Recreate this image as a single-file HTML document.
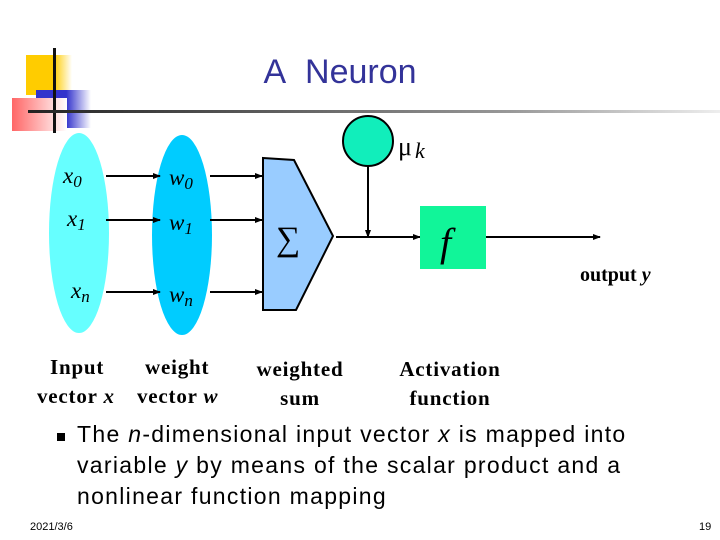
<!DOCTYPE html>
<html><head><style>
body{margin:0;width:720px;height:540px;background:#fff;overflow:hidden;position:relative;font-family:"Liberation Sans",sans-serif}
.a{position:absolute;white-space:nowrap}
.s{font-family:"Liberation Serif",serif;font-size:21px;font-weight:bold;letter-spacing:0.8px}
</style></head><body>
<div class="a" style="left:26px;top:55px;width:46px;height:40px;background:linear-gradient(90deg,#fc0 60%,#fff)"></div>
<div class="a" style="left:36px;top:90px;width:55px;height:38px;background:linear-gradient(90deg,#33c 55%,#fff)"></div>
<div class="a" style="left:12px;top:98px;width:55px;height:33px;background:linear-gradient(90deg,#f66,#fff)"></div>
<div class="a" style="left:53px;top:48px;width:3px;height:85px;background:#111"></div>
<div class="a" style="left:28px;top:110px;width:692px;height:3px;background:linear-gradient(90deg,#222,#999 70%,#eee)"></div>
<div class="a" style="left:0;width:680px;text-align:center;top:53px;font-size:34px;color:#333399">A&nbsp; Neuron</div>
<svg class="a" style="left:0;top:0" width="720" height="540">
<defs><marker id="m" markerWidth="8" markerHeight="8" refX="7" refY="4" orient="auto" markerUnits="userSpaceOnUse"><path d="M0,1 L8,4 L0,7z" fill="#000"/></marker></defs>
<ellipse cx="79" cy="233" rx="30" ry="100" fill="#66ffff"/>
<ellipse cx="182" cy="235" rx="30" ry="100" fill="#00ccff"/>
<g stroke="#000" stroke-width="2" marker-end="url(#m)">
<line x1="106" y1="176" x2="160" y2="176"/><line x1="106" y1="220" x2="160" y2="220"/><line x1="106" y1="292" x2="160" y2="292"/>
<line x1="210" y1="176" x2="262" y2="176"/><line x1="210" y1="220" x2="262" y2="220"/><line x1="210" y1="292" x2="262" y2="292"/>
<line x1="336" y1="237" x2="420" y2="237"/><line x1="368" y1="166" x2="368" y2="237"/><line x1="486" y1="237" x2="600" y2="237"/>
</g>
<polygon points="263,158 294,160 333,236 296,310 263,310" fill="#99ccff" stroke="#000" stroke-width="2"/>
<circle cx="368" cy="141" r="25" fill="#11eebb" stroke="#000" stroke-width="2"/>
<rect x="420" y="206" width="66" height="63" fill="#11f599"/>
<g font-family="Liberation Serif,serif" font-style="italic" font-size="23">
<text x="63" y="183">x<tspan font-size="17" dy="4">0</tspan></text>
<text x="67" y="226">x<tspan font-size="17" dy="4">1</tspan></text>
<text x="71" y="298">x<tspan font-size="17" dy="4">n</tspan></text>
<text x="169" y="185">w<tspan font-size="17" dy="4">0</tspan></text>
<text x="169" y="230">w<tspan font-size="17" dy="4">1</tspan></text>
<text x="169" y="302">w<tspan font-size="17" dy="4">n</tspan></text>
<text x="440" y="256" font-size="40">f</text>
<text x="415" y="158" font-size="22">k</text>
</g>
<text x="276" y="250" font-family="Liberation Serif,serif" font-size="34">∑</text>
<text x="398" y="155" font-family="Liberation Serif,serif" font-size="26">μ</text>
<text x="580" y="281" font-family="Liberation Serif,serif" font-weight="bold" font-size="20">output <tspan font-style="italic">y</tspan></text>
</svg>
<div class="a s" style="left:50px;top:355px">Input</div>
<div class="a s" style="left:145px;top:355px">weight</div>
<div class="a s" style="left:37px;top:384px">vector <i>x</i></div>
<div class="a s" style="left:137px;top:384px">vector <i>w</i></div>
<div class="a s" style="left:240px;width:120px;text-align:center;top:355px;line-height:29px">weighted<br>sum</div>
<div class="a s" style="left:390px;width:120px;text-align:center;top:355px;line-height:29px">Activation<br>function</div>
<div class="a" style="left:57px;top:433px;width:8px;height:8px;background:#000"></div>
<div class="a" style="left:77px;top:419px;font-size:23px;letter-spacing:1.3px;line-height:31px;color:#000">The <i>n</i>-dimensional input vector <i>x</i> is mapped into<br>variable <i>y</i> by means of the scalar product and a<br>nonlinear function mapping</div>
<div class="a" style="left:30px;top:521px;font-size:11px">2021/3/6</div>
<div class="a" style="left:699px;top:521px;font-size:11px">19</div>
</body></html>
